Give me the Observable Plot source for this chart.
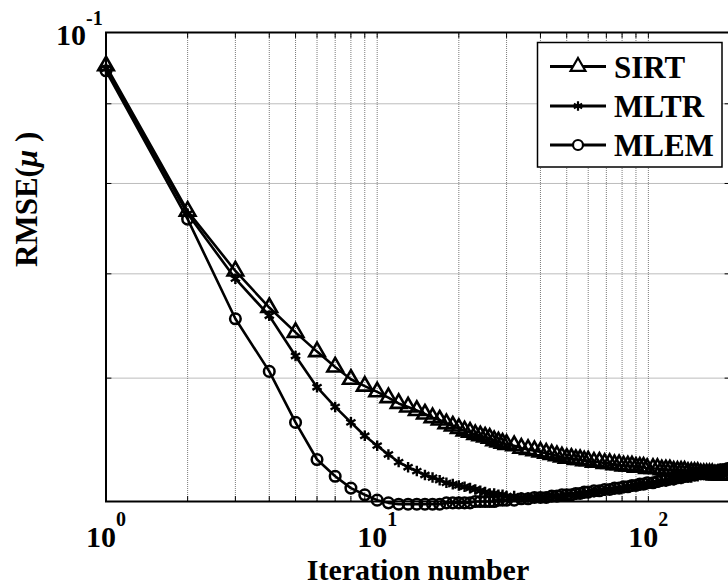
<!DOCTYPE html>
<html>
<head>
<meta charset="utf-8">
<script src="https://cdn.jsdelivr.net/npm/d3@7"></script>
<script src="https://cdn.jsdelivr.net/npm/@observablehq/plot@0.6"></script>
<style>
  html, body { margin: 0; padding: 0; background: #fff; }
  #chart { width: 728px; height: 586px; overflow: hidden; }
</style>
</head>
<body>
<div id="chart"></div>
<script>
// ---- data ----
const iterations = [
  1,2,3,4,5,6,7,8,9,10,11,12,13,14,15,16,17,18,19,20,21,22,23,24,25,26,27,28,29,30,
  32,34,36,38,40,42,44,46,48,50,52,54,56,58,60,
  63,66,69,72,75,78,81,84,87,90,93,96,99,
  104,108,112,116,120,124,128,132,136,140,144,148,152,156,160,164,168,172,176,180,184,188,192,196,200
];
const sirt = [
  0.0952,0.0768,0.0703,0.0666,0.0642,0.0624,0.0610,0.0599,0.0593,0.0588,0.0583,0.0578,0.0575,0.0572,0.0569,0.0566,0.0564,0.0561,0.0559,0.0557,0.0555,0.0554,0.0552,0.0551,0.0550,0.0549,0.0547,0.0546,0.0545,0.0544,
  0.0543,0.0541,0.0540,0.0539,0.0538,0.0537,0.0536,0.0535,0.0534,0.0533,0.0533,0.0532,0.0532,0.0531,0.0531,
  0.0530,0.0530,0.0529,0.0529,0.0528,0.0528,0.0527,0.0527,0.0527,0.0526,0.0526,0.0526,0.0525,
  0.0525,0.0525,0.0524,0.0524,0.0524,0.0523,0.0523,0.0523,0.0523,0.0522,0.0522,0.0522,0.0522,0.0521,0.0521,0.0521,0.0521,0.0521,0.0520,0.0520,0.0520,0.0520,0.0520,0.0520,0.0520
];
const mltr = [
  0.0948,0.0765,0.0695,0.0658,0.0620,0.0592,0.0575,0.0562,0.0551,0.0543,0.0536,0.0530,0.0526,0.0523,0.0520,0.0518,0.0516,0.0514,0.0513,0.0512,0.0511,0.0510,0.0509,0.0508,0.0507,0.0506,0.0506,0.0505,0.0505,0.0504,
  0.0504,0.0503,0.0503,0.0503,0.0503,0.0503,0.0504,0.0504,0.0504,0.0505,0.0505,0.0505,0.0506,0.0506,0.0507,
  0.0507,0.0508,0.0508,0.0509,0.0509,0.0510,0.0510,0.0511,0.0511,0.0512,0.0512,0.0513,0.0513,
  0.0514,0.0514,0.0515,0.0515,0.0516,0.0516,0.0517,0.0517,0.0518,0.0518,0.0518,0.0519,0.0519,0.0520,0.0520,0.0520,0.0521,0.0521,0.0521,0.0522,0.0522,0.0522,0.0523,0.0523,0.0523
];
const mlem = [
  0.0945,0.0759,0.0655,0.0606,0.0562,0.0532,0.0519,0.0510,0.0505,0.0501,0.0499,0.0498,0.0498,0.0498,0.0498,0.0498,0.0498,0.0499,0.0499,0.0499,0.0499,0.0499,0.0500,0.0500,0.0500,0.0500,0.0500,0.0501,0.0501,0.0501,
  0.0501,0.0502,0.0502,0.0503,0.0503,0.0503,0.0504,0.0504,0.0505,0.0505,0.0505,0.0506,0.0506,0.0507,0.0507,
  0.0508,0.0508,0.0509,0.0509,0.0510,0.0510,0.0511,0.0511,0.0512,0.0512,0.0513,0.0513,0.0514,
  0.0514,0.0515,0.0516,0.0516,0.0517,0.0517,0.0518,0.0518,0.0519,0.0519,0.0520,0.0520,0.0521,0.0521,0.0521,0.0522,0.0522,0.0523,0.0523,0.0523,0.0524,0.0524,0.0524,0.0525,0.0525
];
const seriesNames = ["SIRT", "MLTR", "MLEM"];
const xGrid = [2,3,4,5,6,7,8,9,10,20,30,40,50,60,70,80,90,100];
const yGrid = [0.06, 0.07, 0.08, 0.09];
const xTickValues = [1, 10, 100];
const xTickExponents = ["0", "1", "2"];
const yTickValues = [0.1];
const yTickExponents = ["-1"];
const xDomain = [1, 200];
const yDomain = [0.05, 0.1];

// ---- build table ----
const seriesValues = [sirt, mltr, mlem];
const table = [];
seriesNames.forEach((name, s) => {
  iterations.forEach((it, i) => table.push({series: name, iter: it, v: seriesValues[s][i]}));
});
const bySeries = n => table.filter(d => d.series === n);

const FONT = "'Liberation Serif', 'Times New Roman', serif";
const tickShape = { draw(ctx, l) { ctx.moveTo(0, 0); ctx.lineTo(0, -l); } };
const gridStyle = {stroke: "#7a7a7a", strokeWidth: 1, strokeDasharray: "1,1"};

const chart = Plot.plot({
  width: 728,
  height: 586,
  marginTop: 32,
  marginBottom: 85,
  marginLeft: 105.5,
  marginRight: -1.5,
  style: {fontFamily: FONT, fontWeight: "bold", background: "white", color: "black", overflow: "hidden"},
  x: {type: "log", domain: xDomain, axis: null},
  y: {type: "log", domain: yDomain, axis: null},
  marks: [
    Plot.ruleX(xGrid, {x: d => d, ...gridStyle}),
    Plot.ruleY(yGrid, {y: d => d, ...gridStyle}),
    Plot.line(table, {x: "iter", y: "v", z: "series", stroke: "black", strokeWidth: 2.6}),
    Plot.dot(bySeries("SIRT"), {x: "iter", y: "v", symbol: "triangle", r: 5.8, stroke: "black", strokeWidth: 2.6, fill: "none"}),
    Plot.dot(bySeries("MLTR"), {x: "iter", y: "v", symbol: "asterisk", r: 5, stroke: "black", strokeWidth: 2.4, fill: "none"}),
    Plot.dot(bySeries("MLEM"), {x: "iter", y: "v", symbol: "circle", r: 5.3, stroke: "black", strokeWidth: 2.5, fill: "none"}),
    // ticks (inward)
    Plot.vector(xGrid, {x: d => d, y: yDomain[0], length: 5, rotate: 0, anchor: "start", shape: tickShape, stroke: "black", strokeWidth: 1}),
    Plot.vector(xGrid, {x: d => d, y: yDomain[1], length: 5, rotate: 180, anchor: "start", shape: tickShape, stroke: "black", strokeWidth: 1}),
    Plot.vector(yGrid, {y: d => d, x: xDomain[0], length: 5, rotate: 90, anchor: "start", shape: tickShape, stroke: "black", strokeWidth: 1}),
    Plot.vector(yGrid, {y: d => d, x: xDomain[1], length: 5, rotate: 270, anchor: "start", shape: tickShape, stroke: "black", strokeWidth: 1}),
    Plot.frame({stroke: "black", strokeWidth: 2}),
    // x tick labels
    Plot.text(xTickValues, {x: d => d, frameAnchor: "bottom", lineAnchor: "bottom", dy: 45, dx: 10, textAnchor: "end", text: () => "10", fontSize: 30, fill: "black"}),
    Plot.text(xTickValues, {x: d => d, frameAnchor: "bottom", lineAnchor: "bottom", dy: 24, dx: 10, textAnchor: "start", text: (d, i) => xTickExponents[i], fontSize: 20, fill: "black"}),
    // y tick labels
    Plot.text(yTickValues, {y: d => d, frameAnchor: "left", lineAnchor: "bottom", dy: 12, dx: -20, textAnchor: "end", text: () => "10", fontSize: 30, fill: "black"}),
    Plot.text(yTickValues, {y: d => d, frameAnchor: "left", lineAnchor: "bottom", dy: -8, dx: -20, textAnchor: "start", text: (d, i) => yTickExponents[i], fontSize: 20, fill: "black"}),
    // axis labels
    Plot.text(["Iteration number"], {frameAnchor: "bottom", lineAnchor: "bottom", dy: 78, text: d => d, fontSize: 30, fill: "black"}),
    Plot.text(["RMSE(μ )"], {frameAnchor: "left", lineAnchor: "middle", rotate: -90, dx: -79, text: d => d, fontSize: 31, fill: "black"})
  ]
});

document.getElementById("chart").appendChild(chart);

// italic mu in the y label
d3.select(chart).selectAll("text").each(function() {
  if (this.textContent === "RMSE(μ )") {
    const t = d3.select(this);
    t.text(null);
    t.append("tspan").text("RMSE(");
    t.append("tspan").attr("font-style", "italic").text("μ");
    t.append("tspan").text(" )");
  }
});

// ---- legend ----
const svg = d3.select(chart);
const lg = svg.append("g").attr("font-family", FONT).attr("font-weight", "bold").attr("text-anchor", "start");
const box = {x: 537.5, y: 42.5, w: 184.5, h: 124.5};
lg.append("rect").attr("x", box.x).attr("y", box.y).attr("width", box.w).attr("height", box.h)
  .attr("fill", "white").attr("stroke", "black").attr("stroke-width", 1.5);
const rowY = [66.5, 106, 145];
const symbols = [d3.symbolTriangle, d3.symbolAsterisk, d3.symbolCircle];
const symR = [5.5, 4.5, 5];
seriesNames.forEach((name, i) => {
  const y = rowY[i];
  lg.append("line").attr("x1", 550).attr("x2", 606).attr("y1", y).attr("y2", y)
    .attr("stroke", "black").attr("stroke-width", 3);
  lg.append("path").attr("transform", `translate(578,${y})`)
    .attr("d", d3.symbol(symbols[i], Math.PI * symR[i] * symR[i])())
    .attr("fill", i === 1 ? "none" : "white").attr("stroke", "black").attr("stroke-width", 2.2);
  lg.append("text").attr("x", 614).attr("y", y + 11).attr("font-size", 31).attr("fill", "black")
    .attr("text-anchor", "start").text(name);
});
</script>
</body>
</html>
